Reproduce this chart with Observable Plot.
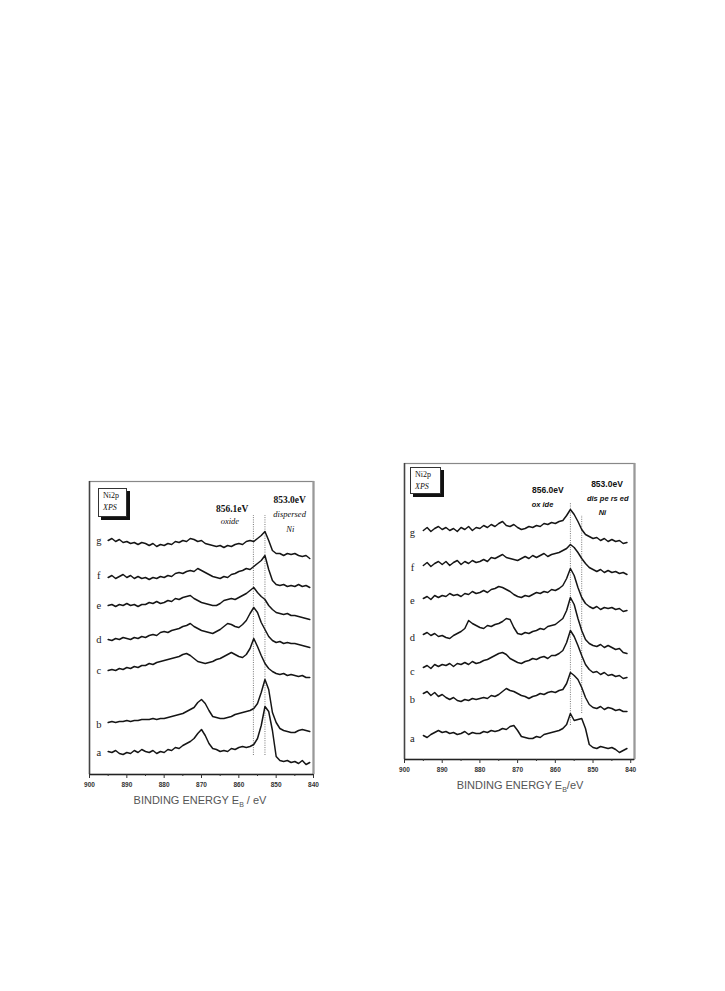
<!DOCTYPE html>
<html><head><meta charset="utf-8">
<script src="https://cdn.jsdelivr.net/npm/d3@7"></script>
<script src="https://cdn.jsdelivr.net/npm/@observablehq/plot@0.6"></script>
<style>
body{margin:0;background:#fff;width:725px;height:991px;position:relative;overflow:hidden;}
.panel{position:absolute;}
.legend{position:absolute;border:1px solid #333;background:#fff;box-shadow:3px 3px 0 #111;font-family:"Liberation Serif",serif;font-size:8px;line-height:12px;padding:1px 4px;color:#111;}
.legend i{font-style:italic;}
.axtitle{position:absolute;font-family:"Liberation Sans",Arial,sans-serif;font-size:11px;color:#555;white-space:nowrap;transform:translateX(-50%);}
.axtitle sub{font-size:7px;}
</style></head><body>
<div id="left" class="panel" style="left:60px;top:470px;"></div>
<div id="right" class="panel" style="left:375px;top:452px;"></div>
<div class="legend" style="left:98px;top:488px;width:19px;height:25px;">Ni2p<br><i>XPS</i></div>
<div class="legend" style="left:410px;top:467px;width:21px;height:23px;">Ni2p<br><i>XPS</i></div>
<div class="axtitle" style="left:200px;top:794px;">BINDING ENERGY E<sub>B</sub> / eV</div>
<div class="axtitle" style="left:520px;top:779px;">BINDING ENERGY E<sub>B</sub>/eV</div>
<script>
// Binding energy grid (eV)
const energies = [895,894,893,892,891,890,889,888,887,886,
  885,884,883,882,881,880,879,878,877,876,
  875,874,873,872,871,870,869,868,867,866,
  865,864,863,862,861,860,859,858,857,856,
  855,854,853,852,851,850,849,848,847,846,
  845,844,843,842,841];

const seriesNames = ["a","b","c","d","e","f","g"];

// Left panel intensities (a.u., offset stacked)
const leftA = [23,22,24,21,20,22,21,24,22,25, 23,22,24,21,23,22,25,24,27,26, 29,31,33,36,41,45,39,31,26,25, 23,24,23,26,25,27,28,27,28,30, 36,49,68,63,44,18,14,13,14,12, 13,11,14,10,12];
const leftB = [52,53,52,53,53,54,53,54,54,55, 55,55,56,55,56,56,57,58,59,60, 61,63,65,67,72,75,71,64,58,57, 56,56,57,58,60,61,62,63,64,66, 71,82,95,85,62,52,46,44,43,42, 42,44,45,44,43];
const leftC = [104,105,104,106,105,107,106,108,107,109, 109,111,110,112,113,114,115,116,117,118, 120,121,119,116,113,112,111,112,113,115, 116,118,120,122,120,118,117,120,126,136, 128,119,111,106,103,101,100,101,99,100, 99,98,99,97,97];
const leftD = [135,134,136,135,137,136,135,137,136,138, 137,139,140,139,142,143,142,144,145,146, 148,149,151,148,146,144,143,142,141,143, 145,148,151,150,148,147,150,154,161,167, 162,152,145,138,134,132,133,131,132,131, 131,130,129,128,127];
const leftE = [169,170,168,170,169,171,169,170,168,170, 170,172,171,173,171,172,174,173,176,175, 177,178,179,176,174,172,171,170,169,169, 171,174,175,176,175,177,179,181,184,187, 182,178,175,169,165,162,161,160,161,159, 159,158,157,156,155];
const leftF = [197,199,196,198,200,197,199,196,198,196, 197,195,197,196,198,197,199,198,201,202, 201,203,204,203,206,204,202,200,198,197, 196,198,197,200,201,203,204,206,205,208, 211,214,219,205,194,190,189,190,188,189, 188,190,188,189,187];
const leftG = [234,236,233,235,232,233,231,232,230,232, 231,229,231,228,230,229,231,230,233,232, 234,233,236,235,233,234,231,230,229,228, 229,227,229,228,230,231,230,233,234,233, 236,239,243,234,224,221,221,219,221,220, 221,219,218,219,216];

// Right panel intensities
const rightA = [24,22,25,27,29,27,28,26,27,25, 26,28,25,27,26,26,28,27,29,28, 29,31,30,33,34,29,23,22,21,21, 23,22,25,26,27,28,29,31,35,46, 39,40,41,31,15,12,11,13,12,11, 12,10,7,9,11];
const rightB = [66,68,64,67,63,65,62,60,62,59, 58,60,59,61,60,61,62,61,64,63, 65,68,71,69,68,66,64,63,61,63, 64,66,65,67,68,67,69,70,76,87, 84,80,72,62,55,52,51,53,50,52, 51,49,50,48,48];
const rightC = [92,94,91,95,93,95,94,96,93,96, 95,97,95,98,96,97,99,100,102,104, 106,107,105,101,99,97,96,98,99,101, 100,102,103,101,104,104,106,109,117,129, 123,114,104,95,90,87,88,85,87,84, 85,83,84,81,82];
const rightD = [125,127,124,126,123,124,122,121,124,126, 128,131,139,136,134,132,131,134,133,135, 136,138,141,140,132,126,125,127,126,128, 129,131,130,133,134,135,138,141,149,162, 155,141,129,120,116,114,113,115,112,114, 112,110,111,107,106];
const rightE = [161,163,160,164,162,164,163,166,164,165, 163,166,165,168,166,167,169,167,170,171, 173,172,170,168,165,163,162,164,163,165, 167,166,168,167,170,169,171,174,181,191, 184,172,162,156,153,151,153,150,152,151, 152,150,151,148,149];
const rightF = [194,197,193,196,198,195,198,194,197,199, 195,198,196,199,197,198,200,198,202,201, 203,205,202,201,200,199,201,203,201,204, 202,204,206,203,205,206,207,209,211,215, 212,207,201,196,192,190,188,190,187,189, 187,188,186,187,185];
const rightG = [229,232,228,231,233,230,232,229,231,228, 232,230,233,229,232,231,234,232,235,233, 236,238,234,233,235,232,230,231,233,232, 234,233,236,235,237,236,238,239,244,250, 245,238,230,225,223,221,222,219,221,218, 220,218,219,216,217];

// Curve letter label levels
const leftLetterI = [22,50,104,135,169,199,234];
const rightLetterI = [21,60,88,122,159,192,227];

// Axis ticks
const majorTicks = [900,890,880,870,860,850,840];
const minorTicks = [895,885,875,865,855,845];

// Peak reference energies and annotations
const leftPeaks = [856.1, 853.0];
const leftPeakLo = [19, 19];
const leftPeakHi = [259, 259];
const leftBoldText = ["856.1eV", "853.0eV"];
const leftBoldE = [861.8, 846.4];
const leftBoldI = [266, 275];
const leftItalText = ["oxide", "dispersed", "Ni"];
const leftItalE = [862.4, 846.4, 846.2];
const leftItalI = [253, 260, 245];

const rightPeaks = [856.0, 853.0];
const rightPeakLo = [34, 46];
const rightPeakHi = [256, 244];
const rightBoldText = ["856.0eV", "853.0eV"];
const rightBoldE = [862.0, 846.3];
const rightBoldI = [269, 275];
const rightItalText = ["ox ide", "dis pe rs ed", "Ni"];
const rightItalE = [863.4, 846.1, 847.5];
const rightItalI = [255, 261, 247];

function rows(list) {
  return list.flatMap((vals, k) => vals.map((v, i) => ({E: energies[i], I: v, s: seriesNames[k]})));
}

function panel(cfg) {
  const data = rows(cfg.series);
  const letters = seriesNames.map((s, i) => ({s, I: cfg.letterI[i], E: cfg.letterE}));
  const peaks = cfg.peaks.map((p, i) => ({E: p, lo: cfg.peakLo[i], hi: cfg.peakHi[i]}));
  const bold = cfg.boldText.map((t, i) => ({t, E: cfg.boldE[i], I: cfg.boldI[i]}));
  const ital = cfg.italText.map((t, i) => ({t, E: cfg.italE[i], I: cfg.italI[i]}));
  return Plot.plot({
    width: cfg.width, height: cfg.height,
    marginLeft: cfg.ml, marginRight: cfg.mr, marginTop: cfg.mt, marginBottom: cfg.mb,
    x: {domain: cfg.xDomain, axis: null},
    y: {domain: [0, cfg.yMax], axis: null},
    style: {fontFamily: "Liberation Sans, Arial, sans-serif", fontSize: "6.5px", color: "#333", background: "transparent", overflow: "visible"},
    marks: [
      Plot.frame({stroke: "#888", strokeWidth: 1.2}),
      Plot.ruleX([cfg.xDomain[0]], {stroke: "#444", strokeWidth: 1.5}),
      Plot.ruleX([cfg.xDomain[1]], {stroke: "#999", strokeWidth: 2.2}),
      Plot.ruleX(peaks, {x: "E", y1: "lo", y2: "hi", stroke: "#777", strokeWidth: 1, strokeDasharray: "1,1.3"}),
      Plot.line(data, {x: "E", y: "I", z: "s", stroke: "#151515", strokeWidth: 1.5, strokeLinejoin: "round"}),
      Plot.ruleY([0], {stroke: "#222", strokeWidth: 1.4}),
      Plot.axisX({ticks: majorTicks, tickSize: 4, tickPadding: 4, tickFormat: d => String(d), fontWeight: "bold", fill: "#333", label: null}),
      Plot.axisX({ticks: minorTicks, tickSize: 2, tickFormat: () => "", label: null}),
      Plot.text(letters, {x: "E", y: "I", text: "s", fontFamily: "Liberation Serif, serif", fontSize: 10.5, fill: "#222"}),
      Plot.text(bold, {x: "E", y: "I", text: "t", fontFamily: cfg.annFont, fontWeight: "bold", fontSize: cfg.boldSize, fill: "#111"}),
      Plot.text(ital, {x: "E", y: "I", text: "t", fontFamily: cfg.annFont, fontStyle: "italic", fontWeight: cfg.italWeight, fontSize: cfg.italSize, fill: "#111"})
    ]
  });
}

document.getElementById("left").append(panel({
  series: [leftA, leftB, leftC, leftD, leftE, leftF, leftG],
  letterI: leftLetterI, letterE: 897.5,
  peaks: leftPeaks, peakLo: leftPeakLo, peakHi: leftPeakHi,
  boldText: leftBoldText, boldE: leftBoldE, boldI: leftBoldI,
  italText: leftItalText, italE: leftItalE, italI: leftItalI,
  annFont: "Liberation Serif, serif", boldSize: 9.5, italSize: 8.5, italWeight: "normal",
  width: 270, height: 345, ml: 29, mr: 17, mt: 11, mb: 41,
  xDomain: [900, 840], yMax: 293
}));

document.getElementById("right").append(panel({
  series: [rightA, rightB, rightC, rightD, rightE, rightF, rightG],
  letterI: rightLetterI, letterE: 897.9,
  peaks: rightPeaks, peakLo: rightPeakLo, peakHi: rightPeakHi,
  boldText: rightBoldText, boldE: rightBoldE, boldI: rightBoldI,
  italText: rightItalText, italE: rightItalE, italI: rightItalI,
  annFont: "Liberation Sans, Arial, sans-serif", boldSize: 8.5, italSize: 7.5, italWeight: "bold",
  width: 280, height: 340, ml: 29, mr: 21, mt: 11, mb: 33,
  xDomain: [900, 839], yMax: 296
}));
</script>
</body></html>
